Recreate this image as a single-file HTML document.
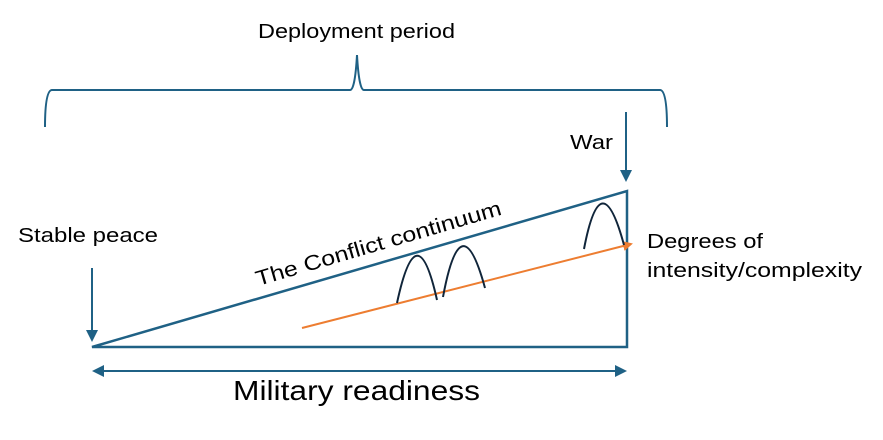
<!DOCTYPE html>
<html><head><style>
html,body{margin:0;padding:0;background:#fff;}
svg{display:block;font-family:"Liberation Sans",sans-serif;}
</style></head><body>
<svg width="883" height="440" viewBox="0 0 883 440" xmlns="http://www.w3.org/2000/svg">
<defs>
<marker id="ab" markerWidth="12" markerHeight="12" refX="10" refY="6" orient="auto" markerUnits="userSpaceOnUse"><path d="M0,0 L12,6 L0,12 z" fill="#1f6185"/></marker>
<marker id="ao" markerWidth="10" markerHeight="10" refX="8" refY="5" orient="auto" markerUnits="userSpaceOnUse"><path d="M0,0 L10,5 L0,10 z" fill="#ed7d31"/></marker>
<marker id="as" markerWidth="12" markerHeight="12" refX="2" refY="6" orient="auto" markerUnits="userSpaceOnUse"><path d="M12,0 L0,6 L12,12 z" fill="#1f6185"/></marker>
</defs>
<text x="258" y="38" font-size="20" textLength="197" lengthAdjust="spacingAndGlyphs" fill="#000">Deployment period</text>
<path d="M45,127 Q45,90 52,90 L350,90 Q355,90 357,55 Q359,90 364,90 L660,90 Q667,90 667,127" fill="none" stroke="#1f6185" stroke-width="2"/>
<text x="570" y="149" font-size="20" textLength="43" lengthAdjust="spacingAndGlyphs" fill="#000">War</text>
<line x1="626" y1="112" x2="626" y2="180" stroke="#1f6185" stroke-width="2" marker-end="url(#ab)"/>
<text x="18" y="242" font-size="20" textLength="140" lengthAdjust="spacingAndGlyphs" fill="#000">Stable peace</text>
<line x1="92" y1="268" x2="92" y2="340" stroke="#1f6185" stroke-width="2" marker-end="url(#ab)"/>
<path d="M92,347 L627,191 L627,347 Z" fill="none" stroke="#1f6185" stroke-width="2.5"/>
<line x1="302" y1="328" x2="631" y2="244" stroke="#ed7d31" stroke-width="2" marker-end="url(#ao)"/>
<g fill="none" stroke="#10253a" stroke-width="2">
<path d="M397,303 Q417,210 437,300"/>
<path d="M443,297 Q461,200 485,288"/>
<path d="M584,249 Q601,160 624,245"/>
</g>
<text x="0" y="0" font-size="21" textLength="255" lengthAdjust="spacingAndGlyphs" fill="#000" transform="translate(258,286) rotate(-16.3)">The Conflict continuum</text>
<text x="647" y="248" font-size="20" textLength="116" lengthAdjust="spacingAndGlyphs" fill="#000">Degrees of</text>
<text x="647" y="277" font-size="20" textLength="215" lengthAdjust="spacingAndGlyphs" fill="#000">intensity/complexity</text>
<line x1="94" y1="371" x2="625" y2="371" stroke="#1f6185" stroke-width="2" marker-start="url(#as)" marker-end="url(#ab)"/>
<text x="233" y="400" font-size="28" textLength="247" lengthAdjust="spacingAndGlyphs" fill="#000">Military readiness</text>
</svg>
</body></html>
